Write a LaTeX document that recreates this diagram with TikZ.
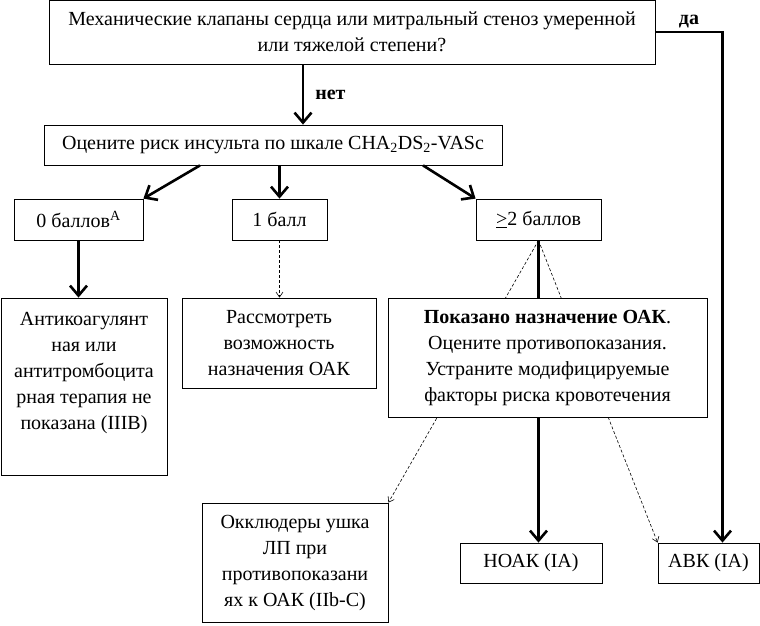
\documentclass[tikz,border=0pt]{standalone}
\usepackage{fontspec}
\setmainfont{Liberation Serif}
\usetikzlibrary{arrows.meta,positioning}
\pgfdeclarelayer{back}
\pgfsetlayers{back,main}

\tikzset{
  box/.style={draw, fill=white, line width=0.8pt, align=center, inner sep=0pt,
    font=\fontsize{20}{26}\selectfont},
  bigarrow/.style={line width=2.6pt, -{Straight Barb[length=10pt,width=17pt]}},
  dasharrow/.style={line width=0.6pt, dash pattern=on 3pt off 2pt,
    -{Straight Barb[length=5pt,width=7pt]}},
  answer/.style={font=\fontsize{20}{22}\selectfont\bfseries, inner sep=2pt}
}

\begin{document}
\begin{tikzpicture}[x=1pt,y=-1pt]
\useasboundingbox (0,0) rectangle (760,625);
% boxes
\node[box, minimum width=606pt, minimum height=64pt] (valves) at (352,32)
  {Механические клапаны сердца или митральный стеноз умеренной\\или тяжелой степени?};
\node[box, minimum width=458pt, minimum height=40pt] (score) at (273,145)
  {Оцените риск инсульта по шкале CHA\textsubscript{2}DS\textsubscript{2}-VASc};
\node[box, minimum width=129pt, minimum height=41pt] (zero) at (78.5,219.5)
  {0 баллов\textsuperscript{A}};
\node[box, minimum width=95pt, minimum height=41pt] (one) at (279.5,219.5) {1 балл};
\node[box, minimum width=125pt, minimum height=41pt] (two) at (538.5,219.5)
  {\underline{>}2 баллов};
\node[box] (nooac) at (84,386.5)
  {\parbox[c][177pt][t]{166pt}{\centering\vspace*{14pt}Антикоагулянт\\ная или\\антитромбоцита\\рная терапия не\\показана (IIIB)}};
\node[box, minimum width=194pt, minimum height=90pt] (consider) at (279,343)
  {Рассмотреть\\возможность\\назначения ОАК};
\node[box, minimum width=319pt, minimum height=119pt] (oac) at (547.5,357.5)
  {\textbf{Показано назначение ОАК}.\\Оцените противопоказания.\\Устраните модифицируемые\\факторы риска кровотечения};
\node[box, minimum width=186pt, minimum height=119pt] (laa) at (295,562.5)
  {Окклюдеры ушка\\ЛП при\\противопоказани\\ях к ОАК (IIb-C)};
\node[box, minimum width=142pt, minimum height=40pt] (noac) at (531,563) {НОАК (IA)};
\node[box, minimum width=101pt, minimum height=40pt] (vka) at (708.5,563) {АВК (IA)};

% connectors
\draw[bigarrow] ([xshift=-49pt]valves.south) -- node[answer, right=9pt] {нет} ([xshift=30pt]score.north);
\draw[bigarrow] (valves.east) -| node[answer, above=1pt, pos=0.25] {да} ([xshift=14pt]vka.north);
\draw[bigarrow] ([xshift=-73pt]score.south) -- (zero.north east);
\draw[bigarrow] (one.north |- score.south) -- (one.north);
\draw[bigarrow] ([xshift=150pt]score.south) -- (two.north west);
\draw[bigarrow] (zero.south) -- (zero.south |- nooac.north);
\draw[dasharrow] (one.south) -- (one.south |- consider.north);
\begin{pgfonlayer}{back}
\draw[bigarrow] (two.south) -- (two.south |- noac.north);
\draw[dasharrow] (two.south) -- (laa.north east);
\draw[dasharrow] (two.south) -- (vka.north west);
\end{pgfonlayer}
\end{tikzpicture}
\end{document}
